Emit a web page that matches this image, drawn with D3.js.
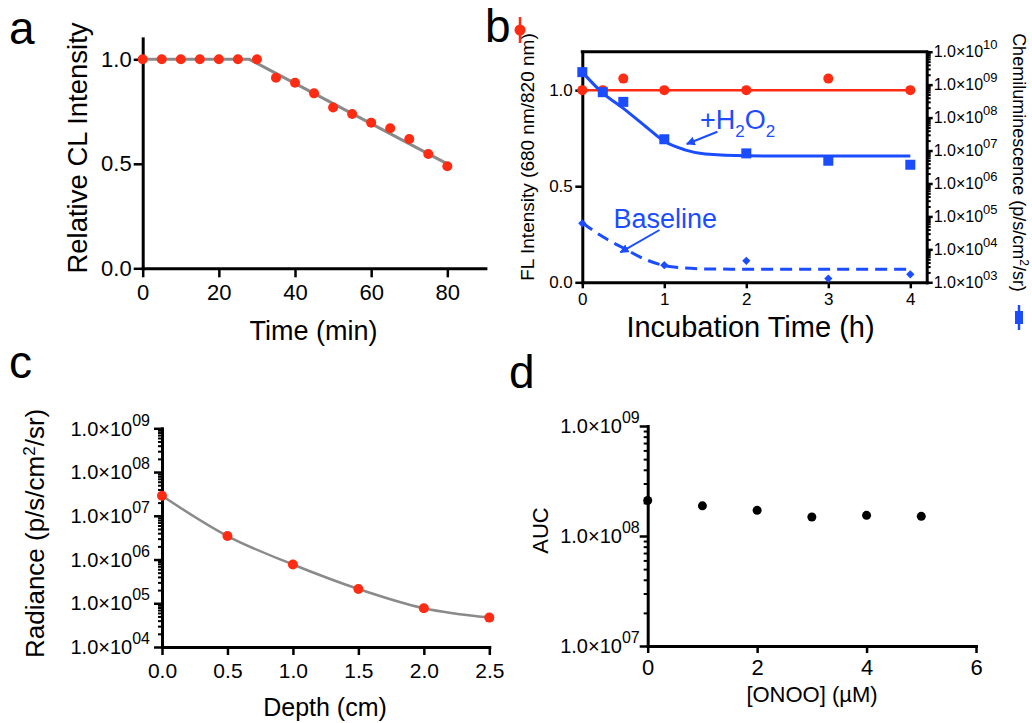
<!DOCTYPE html>
<html><head><meta charset="utf-8">
<script src="https://cdn.jsdelivr.net/npm/d3@7"></script>
<style>
body{margin:0;background:#fff;}
svg{display:block;font-family:'Liberation Sans',Arial,Helvetica,sans-serif;}
</style></head><body>
<svg id="chart" width="1032" height="723"></svg>
<script>
// ---------- Panel a ----------
const timeA = [0,5,10,15,20,25,30,35,40,45,50,55,60,65,70,75,80];
const clA = [1,1,1,1,1,1,1,0.912,0.888,0.837,0.769,0.738,0.697,0.67,0.619,0.547,0.488];
const fitTimeA = [0,28,80];
const fitA = [1,1,0.5];
const ticksAX = [0,20,40,60,80];
const ticksAY = [0,0.5,1.0];

// ---------- Panel b ----------
const timeB = [0,0.25,0.5,1,2,3,4];
const flB = [1.0,1.0,1.06,1.0,1.0,1.06,1.0];
const h2o2B = [2.4e9,5.9e8,3.0e8,2.2e7,8.2e6,4.9e6,3.7e6];
const timeBase = [0,1,2,3,4];
const baseB = [6.2e4,3.3e3,4.5e3,1.3e3,1.75e3];
const fitTimeH2O2 = [0,0.25,0.5,0.8,1,1.25,1.5,2,3,4];
const fitH2O2 = [2.4e9,5.5e8,1.9e8,4.7e7,1.9e7,1.05e7,7.8e6,6.9e6,6.8e6,6.8e6];
const fitTimeBase = [0,0.25,0.5,0.75,1,1.25,1.5,2,3,4];
const fitBase = [6.4e4,2.4e4,1.1e4,5.2e3,3.2e3,2.7e3,2.55e3,2.5e3,2.5e3,2.5e3];
const ticksBX = [0,1,2,3,4];
const ticksBY = [0,0.5,1.0];
const ticksBR = [1e3,1e4,1e5,1e6,1e7,1e8,1e9,1e10];

// ---------- Panel c ----------
const depthC = [0,0.5,1,1.5,2,2.5];
const radianceC = [2.86e7,3.44e6,7.7e5,2.12e5,7.7e4,4.7e4];
const ticksCX = [0,0.5,1,1.5,2,2.5];
const ticksCY = [1e4,1e5,1e6,1e7,1e8,1e9];

// ---------- Panel d ----------
const concD = [0,1,2,3,4,5];
const aucD = [2.1e8,1.88e8,1.71e8,1.49e8,1.54e8,1.51e8];
const ticksDX = [0,2,4,6];
const ticksDY = [1e7,1e8,1e9];

const RED = '#ff2b12', BLUE = '#1b4cff', GRAY = '#8a8a8a';
const FONT = "'Liberation Sans',Arial,Helvetica,sans-serif";
const svg = d3.select('#chart');

function styleAxis(g, fs){
  g.attr('font-family', FONT).attr('font-size', fs);
  g.select('.domain').attr('stroke','#000').attr('stroke-width',3).attr('stroke-linecap','square');
  g.selectAll('.tick line').attr('stroke','#000').attr('stroke-width',2.5);
  g.selectAll('.tick text').attr('fill','#000');
}
function minors(majors){
  const out=[];
  majors.slice(0,-1).forEach(m=>{ for(let k=2;k<10;k++) out.push(m*k); });
  return out;
}
function sciLabel(g, v, x, y, anchor, bs, ss){
  const e = Math.round(Math.log10(v));
  const t = g.append('text').attr('x',x).attr('y',y+0.36*bs).attr('text-anchor',anchor)
    .attr('font-family',FONT).attr('font-size',bs).attr('fill','#000');
  t.append('tspan').text('1.0×10');
  t.append('tspan').attr('dy',-0.5*bs).attr('font-size',ss).text(String(e).padStart(2,'0'));
}
function logAxis(scale, ticks, x, labelGap, bs, ss, side){
  const left = side !== 'right';
  const mk = left ? d3.axisLeft : d3.axisRight;
  const gM = svg.append('g').attr('transform',`translate(${x},0)`)
    .call(mk(scale).tickValues(ticks).tickSize(left?8:6).tickSizeOuter(0).tickFormat(''));
  styleAxis(gM, bs);
  const gm = svg.append('g').attr('transform',`translate(${x},0)`)
    .call(mk(scale).tickValues(minors(ticks)).tickSize(4).tickSizeOuter(0).tickFormat(''));
  gm.select('.domain').remove();
  gm.selectAll('.tick line').attr('stroke','#000').attr('stroke-width',2);
  const gl = svg.append('g');
  ticks.forEach(v=>{
    sciLabel(gl, v, left ? x-labelGap : x+labelGap, scale(v), left?'end':'start', bs, ss);
  });
}
function panelLetter(t,x,y){
  svg.append('text').attr('x',x).attr('y',y).attr('font-family',FONT).attr('font-size',46).text(t);
}
function rotLabel(t,x,y,fs,angle){
  return svg.append('text').attr('transform',`translate(${x},${y}) rotate(${angle})`)
    .attr('text-anchor','middle').attr('font-family',FONT).attr('font-size',fs).attr('fill','#000').text(t);
}

// ================= Panel a =================
{
  const x = d3.scaleLinear().domain([0,90]).range([142.7,485.4]);
  const y = d3.scaleLinear().domain([0,1.1]).range([268.3,38.4]);
  const gx = svg.append('g').attr('transform','translate(0,268.3)')
    .call(d3.axisBottom(x).tickValues(ticksAX).tickSize(9).tickPadding(7).tickFormat(d3.format('d')).tickSizeOuter(0));
  styleAxis(gx,22);
  const gy = svg.append('g').attr('transform','translate(142.7,0)')
    .call(d3.axisLeft(y).tickValues(ticksAY).tickSize(9).tickPadding(2).tickFormat(d3.format('.1f')).tickSizeOuter(0));
  styleAxis(gy,22);
  svg.append('path').datum(fitTimeA.map((t,i)=>[t,fitA[i]]))
    .attr('d', d3.line().x(d=>x(d[0])).y(d=>y(d[1])))
    .attr('fill','none').attr('stroke',GRAY).attr('stroke-width',3);
  svg.append('g').selectAll('circle').data(timeA.map((t,i)=>[t,clA[i]])).join('circle')
    .attr('cx',d=>x(d[0])).attr('cy',d=>y(d[1])).attr('r',5).attr('fill',RED);
  rotLabel('Relative CL Intensity',86.5,148,27.5,-90);
  svg.append('text').attr('x',313.5).attr('y',340).attr('text-anchor','middle')
    .attr('font-family',FONT).attr('font-size',27).text('Time (min)');
  panelLetter('a',9,43.5);
}

// ================= Panel b =================
{
  const x = d3.scaleLinear().domain([0,4.2]).range([582.3,926.7]);
  const yL = d3.scaleLinear().domain([0,1.2]).range([282.3,51.7]);
  const yR = d3.scaleLog().domain([1e3,1e10]).range([282.3,51.7]);
  svg.append('line').attr('x1',582.3).attr('x2',926.7).attr('y1',51.7).attr('y2',51.7)
    .attr('stroke','#000').attr('stroke-width',3).attr('stroke-linecap','square');
  const gx = svg.append('g').attr('transform','translate(0,282.3)')
    .call(d3.axisBottom(x).tickValues(ticksBX).tickSize(6).tickPadding(5).tickFormat(d3.format('d')).tickSizeOuter(0));
  styleAxis(gx,17);
  const gy = svg.append('g').attr('transform','translate(582.3,0)')
    .call(d3.axisLeft(yL).tickValues(ticksBY).tickSize(7).tickPadding(2.5).tickFormat(d3.format('.1f')).tickSizeOuter(0));
  styleAxis(gy,17);
  logAxis(yR, ticksBR, 926.7, 7, 16, 13, 'right');

  svg.append('line').attr('x1',x(0)).attr('x2',x(4)).attr('y1',yL(1)).attr('y2',yL(1))
    .attr('stroke',RED).attr('stroke-width',2.5);
  svg.append('g').selectAll('circle').data(timeB.map((t,i)=>[t,flB[i]])).join('circle')
    .attr('cx',d=>x(d[0])).attr('cy',d=>yL(d[1])).attr('r',5).attr('fill',RED);

  const lineR = d3.line().x(d=>x(d[0])).y(d=>yR(d[1])).curve(d3.curveMonotoneX);
  svg.append('path').datum(fitTimeH2O2.map((t,i)=>[t,fitH2O2[i]])).attr('d',lineR)
    .attr('fill','none').attr('stroke',BLUE).attr('stroke-width',3);
  svg.append('path').datum(fitTimeBase.map((t,i)=>[t,fitBase[i]])).attr('d',lineR)
    .attr('fill','none').attr('stroke',BLUE).attr('stroke-width',3).attr('stroke-dasharray','12,7');
  svg.append('g').selectAll('path').data(timeB.map((t,i)=>[t,h2o2B[i]])).join('path')
    .attr('d',d3.symbol(d3.symbolSquare,100)())
    .attr('transform',d=>`translate(${x(d[0])},${yR(d[1])})`).attr('fill',BLUE);
  svg.append('g').selectAll('path').data(timeBase.map((t,i)=>[t,baseB[i]])).join('path')
    .attr('d',d3.symbol(d3.symbolSquare,34)())
    .attr('transform',d=>`translate(${x(d[0])},${yR(d[1])}) rotate(45)`).attr('fill',BLUE);

  const ann = svg.append('text').attr('x',700).attr('y',129).attr('font-family',FONT)
    .attr('font-size',27).attr('fill',BLUE);
  ann.append('tspan').text('+H');
  ann.append('tspan').attr('dy',8).attr('font-size',17).text('2');
  ann.append('tspan').attr('dy',-8).text('O');
  ann.append('tspan').attr('dy',8).attr('font-size',17).text('2');
  svg.append('text').attr('x',613.5).attr('y',227.5).attr('font-family',FONT)
    .attr('font-size',27).attr('fill',BLUE).text('Baseline');
  const defs = svg.append('defs');
  defs.append('marker').attr('id','arr').attr('viewBox','0 0 10 10').attr('refX',9).attr('refY',5)
    .attr('markerWidth',4.5).attr('markerHeight',4.5).attr('orient','auto')
    .append('path').attr('d','M0,0L10,5L0,10z').attr('fill',BLUE);
  svg.append('line').attr('x1',717.4).attr('y1',131.7).attr('x2',686.8).attr('y2',144)
    .attr('stroke',BLUE).attr('stroke-width',2).attr('marker-end','url(#arr)');
  svg.append('line').attr('x1',659.5).attr('y1',230).attr('x2',620.4).attr('y2',252.3)
    .attr('stroke',BLUE).attr('stroke-width',2).attr('marker-end','url(#arr)');

  rotLabel('FL Intensity (680 nm/820 nm)',533.6,157,19,-90);
  const rt = svg.append('text').attr('transform','translate(1013,162.5) rotate(90)')
    .attr('text-anchor','middle').attr('font-family',FONT).attr('font-size',18);
  rt.append('tspan').text('Chemiluminescence (p/s/cm');
  rt.append('tspan').attr('dy',-7).attr('font-size',12).text('2');
  rt.append('tspan').attr('dy',7).text('/sr)');
  svg.append('text').attr('x',750.5).attr('y',336.7).attr('text-anchor','middle')
    .attr('font-family',FONT).attr('font-size',29).text('Incubation Time (h)');
  svg.append('line').attr('x1',520).attr('x2',520).attr('y1',17).attr('y2',43).attr('stroke',RED).attr('stroke-width',2.5);
  svg.append('circle').attr('cx',520).attr('cy',30).attr('r',5.5).attr('fill',RED);
  svg.append('line').attr('x1',1019).attr('x2',1019).attr('y1',305).attr('y2',330).attr('stroke',BLUE).attr('stroke-width',2.5);
  svg.append('rect').attr('x',1015).attr('y',311).attr('width',8).attr('height',13).attr('fill',BLUE);
  panelLetter('b',485,42);
}

// ================= Panel c =================
{
  const x = d3.scaleLinear().domain([0,2.5]).range([162,489.3]);
  const y = d3.scaleLog().domain([1e4,1e9]).range([647,428.3]);
  const gx = svg.append('g').attr('transform','translate(0,647)')
    .call(d3.axisBottom(x).tickValues(ticksCX).tickSize(8).tickPadding(8).tickFormat(d3.format('.1f')).tickSizeOuter(0));
  styleAxis(gx,21);
  logAxis(y, ticksCY, 162, 12, 20, 16, 'left');
  svg.append('path').datum(depthC.map((t,i)=>[t,radianceC[i]]))
    .attr('d', d3.line().x(d=>x(d[0])).y(d=>y(d[1])).curve(d3.curveMonotoneX))
    .attr('fill','none').attr('stroke',GRAY).attr('stroke-width',2.5);
  svg.append('g').selectAll('circle').data(depthC.map((t,i)=>[t,radianceC[i]])).join('circle')
    .attr('cx',d=>x(d[0])).attr('cy',d=>y(d[1])).attr('r',5).attr('fill',RED);
  const yl = svg.append('text').attr('transform','translate(44,533.4) rotate(-90)')
    .attr('text-anchor','middle').attr('font-family',FONT).attr('font-size',26);
  yl.append('tspan').text('Radiance (p/s/cm');
  yl.append('tspan').attr('dy',-9).attr('font-size',17).text('2');
  yl.append('tspan').attr('dy',9).text('/sr)');
  svg.append('text').attr('x',325).attr('y',716).attr('text-anchor','middle')
    .attr('font-family',FONT).attr('font-size',25).text('Depth (cm)');
  panelLetter('c',9,378);
}

// ================= Panel d =================
{
  const x = d3.scaleLinear().domain([0,6]).range([647.7,976]);
  const y = d3.scaleLog().domain([1e7,1e9]).range([646,426]);
  const gx = svg.append('g').attr('transform','translate(0,646)')
    .call(d3.axisBottom(x).tickValues(ticksDX).tickSize(7).tickPadding(6).tickFormat(d3.format('d')).tickSizeOuter(0));
  styleAxis(gx,22);
  logAxis(y, ticksDY, 647.7, 8, 20, 16, 'left');
  svg.append('g').selectAll('circle').data(concD.map((t,i)=>[t,aucD[i]])).join('circle')
    .attr('cx',d=>x(d[0])).attr('cy',d=>y(d[1])).attr('r',4.5).attr('fill','#000');
  rotLabel('AUC',548,530.5,22,-90);
  svg.append('text').attr('x',812).attr('y',702).attr('text-anchor','middle')
    .attr('font-family',FONT).attr('font-size',22).text('[ONOO] (µM)');
  panelLetter('d',509,388);
}
</script>
</body></html>
